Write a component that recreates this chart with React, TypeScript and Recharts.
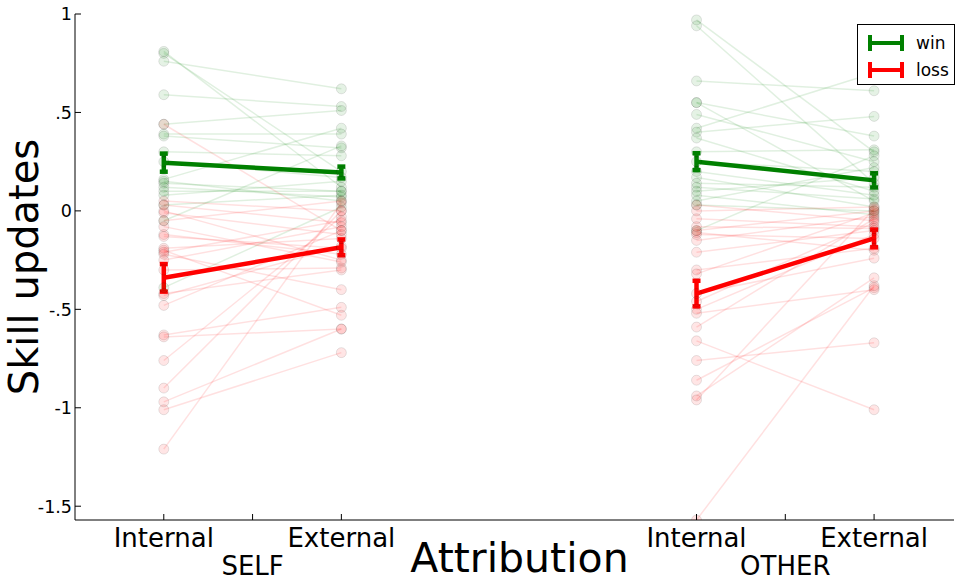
import React from 'react';
import {
  ComposedChart,
  Line,
  XAxis,
  YAxis,
  ErrorBar,
  Legend,
} from 'recharts';

// x positions of the four conditions
const selfX = [0, 1];
const otherX = [3, 4];

const xTicks = [0, 0.5, 1, 3, 3.5, 4];
const xTickLabels = ['Internal', 'SELF', 'External', 'Internal', 'OTHER', 'External'];
const yTicks = [1, 0.5, 0, -0.5, -1, -1.5];
const yTickLabels = ['1', '.5', '0', '-.5', '-1', '-1.5'];

// individual subjects (internal -> external)
const selfWinInternal = [0.81, 0.8, 0.76, 0.59, 0.44, 0.39, 0.38, 0.3, 0.16, 0.14, 0.12, 0.08, 0.03, 0.15, -0.05, 0.25, 0.1, -0.39];
const selfWinExternal = [0.12, 0.2, 0.62, 0.53, 0.51, 0.39, 0.32, 0.28, 0.42, 0.1, 0.07, 0.15, 0.08, 0.05, 0.33, 0.17, 0.1, 0.02];

const selfLossInternal = [0.44, 0.05, 0.03, -0.01, -0.05, -0.12, -0.19, -0.2, -0.21, -0.25, -0.3, -0.43, -0.48, -0.63, -0.64, -0.76, -0.9, -0.97, -1.01, -1.21, 0.0, -0.13, -0.08, -0.22, -0.42];
const selfLossExternal = [-0.1, 0.0, -0.06, -0.12, 0.05, -0.22, -0.14, -0.53, -0.05, -0.08, -0.29, -0.18, -0.1, -0.49, -0.6, -0.03, 0.0, -0.6, -0.72, 0.04, -0.25, -0.19, -0.26, -0.4, -0.3];

const otherWinInternal = [0.97, 0.94, 0.66, 0.55, 0.55, 0.49, 0.42, 0.4, 0.37, 0.3, 0.25, 0.17, 0.14, 0.12, 0.1, 0.08, 0.05, 0.03, -0.1, 0.2];
const otherWinExternal = [0.3, 0.14, 0.61, 0.38, 0.05, 0.25, 0.7, 0.48, 0.1, 0.31, 0.2, 0.02, 0.12, 0.06, 0.17, -0.02, 0.22, 0.0, 0.28, 0.08];

const otherLossInternal = [0.03, 0.0, -0.04, -0.1, -0.12, -0.15, -0.21, -0.3, -0.32, -0.42, -0.46, -0.5, -0.52, -0.59, -0.66, -0.76, -0.86, -0.94, -0.96, -1.57, -0.11, -0.08];
const otherLossExternal = [-0.05, 0.02, -0.08, 0.0, -0.14, -0.03, -0.1, -0.19, -0.01, -0.24, -0.06, -0.12, -0.4, -0.04, -1.01, -0.67, -0.39, -0.34, 0.01, -0.38, -0.2, -0.09];

// group means and standard errors (internal, external)
const selfWinMean = [0.245, 0.195];
const selfWinSem = [0.046, 0.03];
const selfLossMean = [-0.34, -0.185];
const selfLossSem = [0.07, 0.04];
const otherWinMean = [0.25, 0.155];
const otherWinSem = [0.043, 0.036];
const otherLossMean = [-0.42, -0.14];
const otherLossSem = [0.065, 0.045];

const legendNames = ['win', 'loss'];

const GREEN = '#008000';
const RED = '#ff0000';
const FONT = '"DejaVu Sans", sans-serif';

const pairs = (xs: number[], a: number[], b: number[]) =>
  a.map((v, i) => [
    { x: xs[0], y: v },
    { x: xs[1], y: b[i] },
  ]);

const meanData = (xs: number[], m: number[], s: number[]) =>
  m.map((v, i) => ({ x: xs[i], y: v, err: s[i] }));

const faint = [
  ...pairs(selfX, selfWinInternal, selfWinExternal).map((d) => ({ d, c: GREEN })),
  ...pairs(otherX, otherWinInternal, otherWinExternal).map((d) => ({ d, c: GREEN })),
  ...pairs(selfX, selfLossInternal, selfLossExternal).map((d) => ({ d, c: RED })),
  ...pairs(otherX, otherLossInternal, otherLossExternal).map((d) => ({ d, c: RED })),
];

const means = [
  { d: meanData(selfX, selfWinMean, selfWinSem), c: GREEN },
  { d: meanData(otherX, otherWinMean, otherWinSem), c: GREEN },
  { d: meanData(selfX, selfLossMean, selfLossSem), c: RED },
  { d: meanData(otherX, otherLossMean, otherLossSem), c: RED },
];

const BottomTick = ({ x, y, payload }: any) => {
  const idx = xTicks.indexOf(payload.value);
  const group = payload.value % 1 !== 0;
  return (
    <g>
      <line x1={x} y1={y} x2={x} y2={y - 6} stroke="#000" />
      <text x={x} y={group ? y + 54.5 : y + 27} textAnchor="middle" fontSize={26} fontFamily={FONT} fill="#000">
        {xTickLabels[idx]}
      </text>
    </g>
  );
};

const TopTick = ({ x, y }: any) => <line x1={x} y1={y} x2={x} y2={y + 6} stroke="#000" />;

const LeftTick = ({ x, y, payload }: any) => (
  <g>
    <line x1={x} y1={y} x2={x + 6} y2={y} stroke="#000" />
    <text x={x - 3} y={y} dy="0.36em" textAnchor="end" fontSize={17.5} fontFamily={FONT} fill="#000">
      {yTickLabels[yTicks.indexOf(payload.value)]}
    </text>
  </g>
);

const RightTick = ({ x, y }: any) => <line x1={x} y1={y} x2={x - 6} y2={y} stroke="#000" />;

const YLabel = ({ viewBox }: any) => {
  const cx = viewBox.x + 38;
  const cy = viewBox.y + viewBox.height / 2;
  return (
    <text x={cx} y={cy} transform={`rotate(-90, ${cx}, ${cy})`} textAnchor="middle" fontSize={40} fontFamily={FONT} fill="#000">
      Skill updates
    </text>
  );
};

const XLabel = ({ viewBox }: any) => (
  <text x={viewBox.x + viewBox.width / 2 + 5} y={viewBox.y + 52} textAnchor="middle" fontSize={41} fontFamily={FONT} fill="#000">
    Attribution
  </text>
);

const LegendBox = () => (
  <div style={{ border: '1px solid #000', background: '#fff', width: 98, height: 61, boxSizing: 'border-box', padding: '4px 0 0 8px' }}>
    {legendNames.map((n, i) => {
      const c = i === 0 ? GREEN : RED;
      return (
        <div key={n} style={{ display: 'flex', alignItems: 'center', height: 27 }}>
          <svg width={50} height={20}>
            <line x1={4} y1={10} x2={36} y2={10} stroke={c} strokeWidth={4} />
            <line x1={4} y1={2} x2={4} y2={18} stroke={c} strokeWidth={4} />
            <line x1={36} y1={2} x2={36} y2={18} stroke={c} strokeWidth={4} />
          </svg>
          <span style={{ fontFamily: FONT, fontSize: 17, color: '#000' }}>{n}</span>
        </div>
      );
    })}
  </div>
);

export default function App() {
  return (
    <div style={{ position: 'absolute', left: 0, top: 0, width: 955, height: 581, background: '#fff' }}>
      <ComposedChart width={955} height={581} margin={{ top: 14, right: 1, bottom: 0, left: 0 }}>
        <XAxis
          xAxisId="b"
          type="number"
          dataKey="x"
          domain={[-0.5, 4.45]}
          ticks={xTicks}
          interval={0}
          height={61}
          tickSize={0}
          tickMargin={0}
          tickLine={false}
          tick={<BottomTick />}
          axisLine={{ stroke: '#000' }}
          allowDataOverflow
          label={{ content: <XLabel /> }}
        />
        <XAxis
          xAxisId="t"
          orientation="top"
          type="number"
          dataKey="x"
          domain={[-0.5, 4.45]}
          ticks={xTicks}
          interval={0}
          height={0}
          tickSize={0}
          tickMargin={0}
          tickLine={false}
          tick={<TopTick />}
          axisLine={{ stroke: '#000' }}
          allowDataOverflow
        />
        <YAxis
          yAxisId="l"
          type="number"
          domain={[-1.57, 1]}
          ticks={yTicks}
          interval={0}
          width={75}
          tickSize={0}
          tickMargin={0}
          tickLine={false}
          tick={<LeftTick />}
          axisLine={{ stroke: '#000' }}
          allowDataOverflow
          label={{ content: <YLabel /> }}
        />
        <YAxis
          yAxisId="r"
          orientation="right"
          type="number"
          domain={[-1.57, 1]}
          ticks={yTicks}
          interval={0}
          width={0}
          tickSize={0}
          tickMargin={0}
          tickLine={false}
          tick={<RightTick />}
          axisLine={{ stroke: '#000' }}
          allowDataOverflow
        />
        {faint.map((f, i) => (
          <Line
            key={`f${i}`}
            xAxisId="b"
            yAxisId="l"
            data={f.d}
            dataKey="y"
            stroke={f.c}
            strokeOpacity={0.12}
            strokeWidth={1.5}
            dot={{ r: 5, fill: f.c, fillOpacity: 0.1, stroke: '#000', strokeOpacity: 0.1, strokeWidth: 1 }}
            activeDot={false}
            legendType="none"
            isAnimationActive={false}
          />
        ))}
        {means.map((m, i) => (
          <Line
            key={`m${i}`}
            xAxisId="b"
            yAxisId="l"
            data={m.d}
            dataKey="y"
            stroke={m.c}
            strokeWidth={4.5}
            dot={false}
            activeDot={false}
            legendType="none"
            isAnimationActive={false}
          >
            <ErrorBar dataKey="err" direction="y" width={4} stroke={m.c} strokeWidth={4.5} />
          </Line>
        ))}
        <Legend
          layout="horizontal"
          verticalAlign="middle"
          align="center"
          content={<LegendBox />}
          wrapperStyle={{ position: 'absolute', left: 857, top: 24, width: 98, height: 61 }}
        />
      </ComposedChart>
    </div>
  );
}
